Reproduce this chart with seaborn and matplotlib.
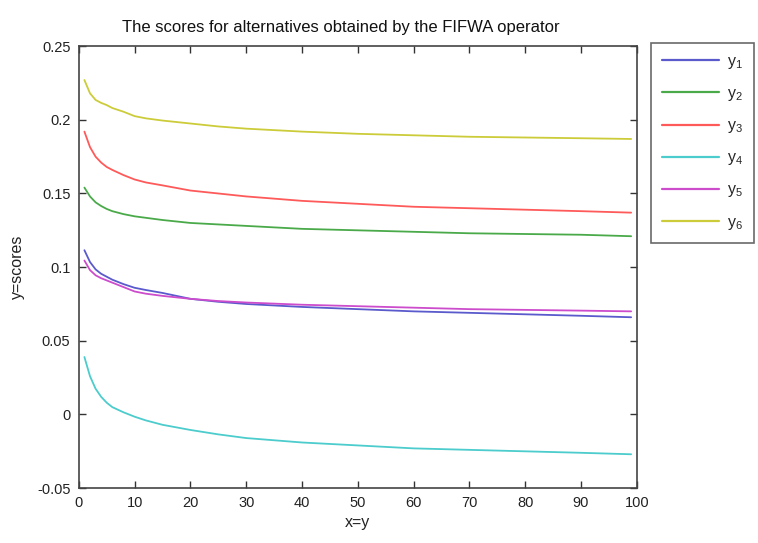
import matplotlib
matplotlib.use("Agg")
import matplotlib.pyplot as plt
import seaborn as sns
import pandas as pd

x_vals = [1, 2, 3, 4, 5, 6, 8, 10, 12, 15, 20, 25, 30, 40, 50, 60, 70, 80, 90, 99]
y1 = [0.1115, 0.1035, 0.0985, 0.0955, 0.0935, 0.0915, 0.0885, 0.0860, 0.0845, 0.0825, 0.0785, 0.0765, 0.0750, 0.0730, 0.0715, 0.0700, 0.0690, 0.0680, 0.0670, 0.0660]
y2 = [0.1540, 0.1480, 0.1440, 0.1415, 0.1395, 0.1380, 0.1360, 0.1345, 0.1335, 0.1320, 0.1300, 0.1290, 0.1280, 0.1260, 0.1250, 0.1240, 0.1230, 0.1225, 0.1220, 0.1210]
y3 = [0.1920, 0.1815, 0.1750, 0.1710, 0.1680, 0.1660, 0.1625, 0.1595, 0.1575, 0.1555, 0.1520, 0.1500, 0.1480, 0.1450, 0.1430, 0.1410, 0.1400, 0.1390, 0.1380, 0.1370]
y4 = [0.0390, 0.0260, 0.0175, 0.0120, 0.0080, 0.0050, 0.0015, -0.0015, -0.0040, -0.0070, -0.0105, -0.0135, -0.0160, -0.0190, -0.0210, -0.0230, -0.0240, -0.0250, -0.0260, -0.0270]
y5 = [0.1045, 0.0980, 0.0945, 0.0925, 0.0910, 0.0895, 0.0865, 0.0835, 0.0820, 0.0805, 0.0785, 0.0770, 0.0760, 0.0745, 0.0735, 0.0725, 0.0715, 0.0710, 0.0705, 0.0700]
y6 = [0.2270, 0.2180, 0.2135, 0.2115, 0.2100, 0.2080, 0.2055, 0.2025, 0.2010, 0.1995, 0.1975, 0.1955, 0.1940, 0.1920, 0.1905, 0.1895, 0.1885, 0.1880, 0.1875, 0.1870]

series_labels = ["$\\mathregular{y_1}$", "$\\mathregular{y_2}$", "$\\mathregular{y_3}$",
                 "$\\mathregular{y_4}$", "$\\mathregular{y_5}$", "$\\mathregular{y_6}$"]
colors = ["#5a5acc", "#4aaa4a", "#ff5a5a", "#4ccccc", "#cc4ccc", "#cccc3a"]

rows = []
for lab, ys in zip(series_labels, [y1, y2, y3, y4, y5, y6]):
    for xv, yv in zip(x_vals, ys):
        rows.append({"x": xv, "score": yv, "series": lab})
df = pd.DataFrame(rows)

sns.set_style("white")
plt.rcParams["font.family"] = ["Liberation Sans", "DejaVu Sans"]
plt.rcParams["mathtext.fontset"] = "custom"
plt.rcParams["mathtext.rm"] = "Liberation Sans"

fig = plt.figure(figsize=(7.58, 5.43), dpi=100)
ax = fig.add_axes([0.104, 0.101, 0.736, 0.814])
sns.lineplot(data=df, x="x", y="score", hue="series", palette=colors,
             hue_order=series_labels, ax=ax, linewidth=1.3, legend=True)

ax.set_xlim(0, 100)
ax.set_ylim(-0.05, 0.25)
ax.set_xticks(range(0, 101, 10))
ax.set_yticks([-0.05, 0, 0.05, 0.1, 0.15, 0.2, 0.25])
ax.set_yticklabels(["-0.05", "0", "0.05", "0.1", "0.15", "0.2", "0.25"])
ax.tick_params(direction="in", length=5, width=1, top=True, right=True,
               bottom=True, left=True, pad=6,
               labelsize=10.5, colors="#333333", labelcolor="#222222")
for s in ax.spines.values():
    s.set_color("#444444")
    s.set_linewidth(1.2)
ax.set_xlabel("x=y", fontsize=11.5, color="#222222", labelpad=3)
ax.set_ylabel("y=scores", fontsize=11.5, color="#222222", labelpad=9)
ax.set_title("The scores for alternatives obtained by the FIFWA operator",
             fontsize=12, color="#111111", x=0.47, pad=10)

leg = ax.legend(loc="upper left", bbox_to_anchor=(1.025, 1.008), frameon=True,
                fancybox=False, edgecolor="#444444", fontsize=11.5,
                handlelength=3.6, labelspacing=0.95, borderpad=0.7,
                handletextpad=0.45, borderaxespad=0.0)
leg.get_frame().set_linewidth(1.2)
for line in leg.get_lines():
    line.set_linewidth(1.6)

fig.savefig("out.png", dpi=100)
